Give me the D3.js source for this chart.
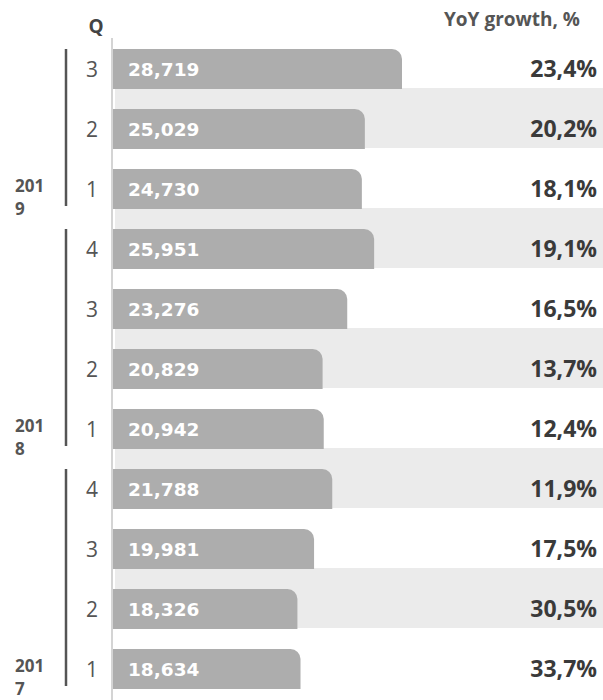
<!DOCTYPE html>
<html>
<head>
<meta charset="utf-8">
<script src="https://cdn.jsdelivr.net/npm/d3@7"></script>
<style>
  html, body { margin: 0; padding: 0; background: #fff; }
  svg { display: block; }
</style>
</head>
<body>
<svg id="chart" width="603" height="700"></svg>
<script>
// Quarterly revenue, newest first, with year-over-year growth
const years    = ["2019", "2018", "2017"];
const yearOf   = ["2019", "2019", "2019", "2018", "2018", "2018", "2018", "2017", "2017", "2017", "2017"];
const quarters = ["3", "2", "1", "4", "3", "2", "1", "4", "3", "2", "1"];
const revenue  = [28719, 25029, 24730, 25951, 23276, 20829, 20942, 21788, 19981, 18326, 18634];
const growth   = [23.4, 20.2, 18.1, 19.1, 16.5, 13.7, 12.4, 11.9, 17.5, 30.5, 33.7];
const headerQ      = "Q";
const headerGrowth = "YoY growth, %";

const W = 603, H = 700;
const svg = d3.select("#chart");

const rows = d3.range(revenue.length);
const y = d3.scaleBand().domain(rows).range([28, 688]).paddingInner(0).paddingOuter(0);
const x = d3.scaleLinear().domain([0, d3.max(revenue)]).range([113, 402]);

const barOffset = 21, barH = 40, radius = 10;
const mid = i => y(i) + barOffset + barH / 2;

const fmtValue = d3.format(",");
const fmtPct = v => d3.format(".1f")(v).replace(".", ",") + "%";

// alternating row shading
svg.append("g").selectAll("rect")
  .data(rows.filter(i => i % 2 === 1))
  .join("rect")
  .attr("x", 115).attr("width", W - 115)
  .attr("y", i => y(i)).attr("height", y.bandwidth())
  .attr("fill", "#ebebeb");

// bars with a rounded top-right corner
function barPath(x0, x1, top, h, r) {
  const rr = Math.min(r, x1 - x0, h);
  return `M${x0},${top}H${x1 - rr}A${rr},${rr} 0 0 1 ${x1},${top + rr}V${top + h}H${x0}Z`;
}
svg.append("g").selectAll("path")
  .data(rows)
  .join("path")
  .attr("d", i => barPath(x(0), x(revenue[i]), y(i) + barOffset, barH, radius))
  .attr("fill", "#adadad");

// baseline axis
svg.append("line")
  .attr("x1", x(0) - 1).attr("x2", x(0) - 1)
  .attr("y1", 38).attr("y2", H)
  .attr("stroke", "#d4d4d4").attr("stroke-width", 2);

// value labels inside bars
svg.append("g").selectAll("text")
  .data(rows)
  .join("text")
  .attr("x", 128).attr("y", i => mid(i))
  .attr("dy", "0.36em")
  .attr("font-family", "'DejaVu Sans', sans-serif")
  .attr("font-weight", 700)
  .attr("font-size", 18.5)
  .attr("fill", "#fff")
  .text(i => fmtValue(revenue[i]));

// growth labels
svg.append("g").selectAll("text")
  .data(rows)
  .join("text")
  .attr("x", 597).attr("y", i => mid(i))
  .attr("dy", "0.36em")
  .attr("text-anchor", "end")
  .attr("font-family", "'Open Sans', sans-serif")
  .attr("font-weight", 700)
  .attr("font-size", 23)
  .attr("fill", "#3a3a3a")
  .text(i => fmtPct(growth[i]));

// quarter labels
svg.append("g").selectAll("text")
  .data(rows)
  .join("text")
  .attr("x", 92).attr("y", i => mid(i))
  .attr("dy", "0.36em")
  .attr("text-anchor", "middle")
  .attr("font-family", "'Open Sans', sans-serif")
  .attr("font-size", 21)
  .attr("fill", "#555")
  .text(i => quarters[i]);

// headers
svg.append("text")
  .attr("x", 96).attr("y", 33)
  .attr("text-anchor", "middle")
  .attr("font-family", "'Open Sans', sans-serif")
  .attr("font-weight", 700).attr("font-size", 19)
  .attr("fill", "#444")
  .text(headerQ);

svg.append("text")
  .attr("x", 580).attr("y", 26)
  .attr("text-anchor", "end")
  .attr("font-family", "'Open Sans', sans-serif")
  .attr("font-weight", 700).attr("font-size", 19)
  .attr("fill", "#555")
  .text(headerGrowth);

// year brackets and labels
const groups = years.map(yr => {
  const idx = rows.filter(i => yearOf[i] === yr);
  return { year: yr, first: d3.min(idx), last: d3.max(idx) };
});

svg.append("g").selectAll("line")
  .data(groups)
  .join("line")
  .attr("x1", 66).attr("x2", 66)
  .attr("y1", g => y(g.first) + 21)
  .attr("y2", g => y(g.last) + y.bandwidth() - 2)
  .attr("stroke", "#555").attr("stroke-width", 2.5);

// each year wraps onto two lines: "201" over the final digit
const yearText = svg.append("g").selectAll("text")
  .data(groups)
  .join("text")
  .attr("font-family", "'Open Sans', sans-serif")
  .attr("font-weight", 700).attr("font-size", 17)
  .attr("fill", "#555");
yearText.append("tspan")
  .attr("x", 15).attr("y", g => mid(g.last) + 3)
  .text(g => g.year.slice(0, 3));
yearText.append("tspan")
  .attr("x", 15).attr("y", g => mid(g.last) + 26)
  .text(g => g.year.slice(3));
</script>
</body>
</html>
